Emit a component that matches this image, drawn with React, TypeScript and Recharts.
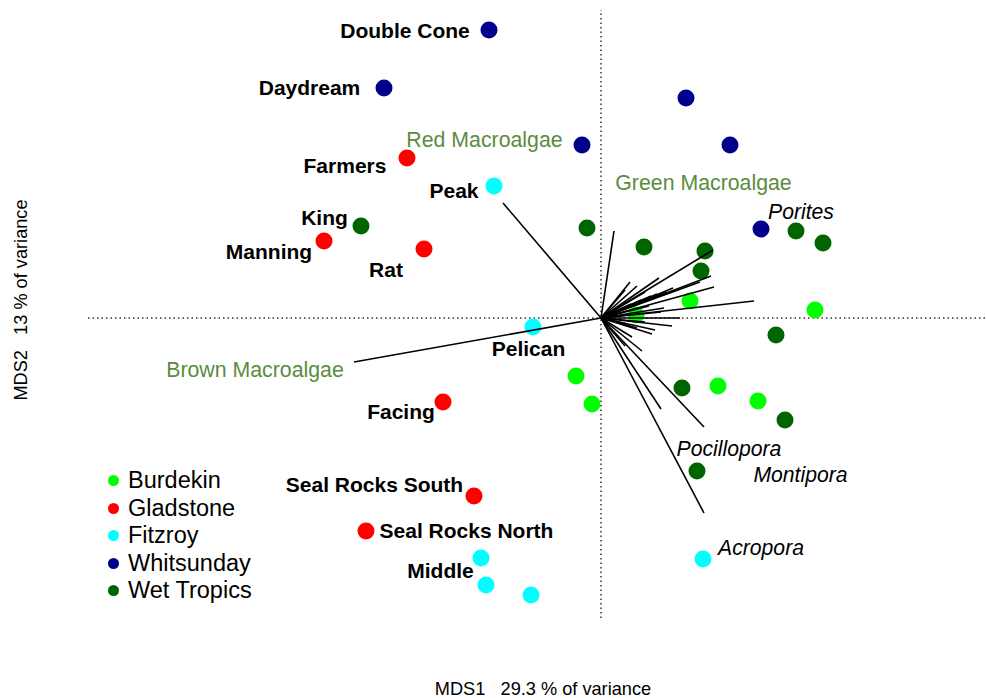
import React from 'react';
import { ScatterChart, Scatter, XAxis, YAxis, ReferenceLine } from 'recharts';

// site scores (MDS1, MDS2)
const burdekin = [
  { x: 0.175, y: 0.015 },
  { x: 0.445, y: 0.085 },
  { x: 1.07, y: 0.04 },
  { x: -0.125, y: -0.29 },
  { x: -0.045, y: -0.43 },
  { x: 0.585, y: -0.34 },
  { x: 0.785, y: -0.415 },
];

const gladstone = [
  { x: -0.97, y: 0.8 },
  { x: -1.385, y: 0.385 },
  { x: -0.885, y: 0.345 },
  { x: -0.79, y: -0.42 },
  { x: -0.635, y: -0.89 },
  { x: -1.175, y: -1.065 },
];

const fitzroy = [
  { x: -0.535, y: 0.66 },
  { x: -0.34, y: -0.045 },
  { x: -0.6, y: -1.2 },
  { x: -0.575, y: -1.335 },
  { x: -0.35, y: -1.385 },
  { x: 0.51, y: -1.205 },
];

const whitsunday = [
  { x: -0.56, y: 1.44 },
  { x: -1.085, y: 1.15 },
  { x: -0.095, y: 0.865 },
  { x: 0.425, y: 1.1 },
  { x: 0.645, y: 0.865 },
  { x: 0.8, y: 0.445 },
];

const wetTropics = [
  { x: -1.2, y: 0.46 },
  { x: -0.07, y: 0.45 },
  { x: 0.215, y: 0.355 },
  { x: 0.52, y: 0.335 },
  { x: 0.5, y: 0.235 },
  { x: 0.975, y: 0.435 },
  { x: 1.11, y: 0.375 },
  { x: 0.875, y: -0.085 },
  { x: 0.405, y: -0.35 },
  { x: 0.92, y: -0.51 },
  { x: 0.48, y: -0.765 },
];

// benthic category vectors (end points, start at origin)
const vectors = [
  { x: 0.065, y: 0.435 },
  { x: -0.49, y: 0.575 },
  { x: -1.235, y: -0.22 },
  { x: 0.515, y: -0.975 },
  { x: 0.515, y: -0.545 },
  { x: 0.3, y: -0.455 },
  { x: 0.56, y: 0.34 },
  { x: 0.55, y: 0.21 },
  { x: 0.565, y: 0.155 },
  { x: 0.495, y: 0.18 },
  { x: 0.29, y: 0.2 },
  { x: 0.145, y: 0.18 },
  { x: 0.765, y: 0.085 },
  { x: 0.395, y: 0.0 },
  { x: 0.355, y: -0.04 },
  { x: 0.255, y: -0.08 },
  { x: 0.205, y: -0.165 },
  { x: 0.155, y: -0.095 },
  { x: 0.36, y: 0.15 },
  { x: 0.315, y: 0.05 },
  { x: 0.12, y: 0.14 },
  { x: 0.18, y: 0.16 },
  { x: 0.22, y: 0.13 },
  { x: 0.25, y: 0.11 },
  { x: 0.2, y: 0.09 },
  { x: 0.15, y: 0.07 },
  { x: 0.28, y: 0.12 },
  { x: 0.33, y: 0.13 },
  { x: 0.24, y: 0.06 },
  { x: 0.3, y: 0.03 },
  { x: 0.22, y: -0.02 },
  { x: 0.18, y: -0.05 },
  { x: 0.27, y: -0.06 },
  { x: 0.13, y: -0.03 },
  { x: 0.12, y: -0.14 },
];

const siteLabels = [
  { text: 'Double Cone', x: -0.98, y: 1.44 },
  { text: 'Daydream', x: -1.4575, y: 1.155 },
  { text: 'Farmers', x: -1.28, y: 0.765 },
  { text: 'Peak', x: -0.735, y: 0.64 },
  { text: 'King', x: -1.3825, y: 0.505 },
  { text: 'Manning', x: -1.66, y: 0.335 },
  { text: 'Rat', x: -1.075, y: 0.245 },
  { text: 'Pelican', x: -0.3625, y: -0.15 },
  { text: 'Facing', x: -1.0, y: -0.465 },
  { text: 'Seal Rocks South', x: -1.1325, y: -0.83 },
  { text: 'Seal Rocks North', x: -0.6725, y: -1.06 },
  { text: 'Middle', x: -0.8025, y: -1.26 },
];

const algaeLabels = [
  { text: 'Red Macroalgae', x: -0.5825, y: 0.89 },
  { text: 'Green Macroalgae', x: 0.5125, y: 0.675 },
  { text: 'Brown Macroalgae', x: -1.73, y: -0.26 },
];

const coralLabels = [
  { text: 'Porites', x: 1.0, y: 0.535 },
  { text: 'Pocillopora', x: 0.64, y: -0.65 },
  { text: 'Montipora', x: 0.9975, y: -0.78 },
  { text: 'Acropora', x: 0.8, y: -1.145 },
];

const regions = [
  { name: 'Burdekin', color: '#00ff00', data: burdekin },
  { name: 'Gladstone', color: '#ff0000', data: gladstone },
  { name: 'Fitzroy', color: '#00ffff', data: fitzroy },
  { name: 'Whitsunday', color: '#00008b', data: whitsunday },
  { name: 'Wet Tropics', color: '#006400', data: wetTropics },
];

const FONT = '"Liberation Sans", Arial, sans-serif';

const dot = (color: string) => (props: any) => (
  <circle cx={props.cx} cy={props.cy} r={8.5} fill={color} />
);

const noDot = () => <g />;

const label = (style: any) => (props: any) => (
  <text
    x={props.cx}
    y={props.cy}
    textAnchor="middle"
    dominantBaseline="central"
    fontFamily={FONT}
    {...style}
  >
    {props.payload.text}
  </text>
);

const LegendBox = () => (
  <div style={{ fontFamily: FONT, fontSize: 23.5, color: '#000' }}>
    {regions.map((r) => (
      <div key={r.name} style={{ display: 'flex', alignItems: 'center', height: 27.5 }}>
        <span
          style={{
            width: 11,
            height: 11,
            borderRadius: '50%',
            background: r.color,
            display: 'inline-block',
            marginRight: 9,
          }}
        />
        {r.name}
      </div>
    ))}
  </div>
);

export default function App() {
  return (
    <div style={{ position: 'absolute', left: 0, top: 0, width: 986, height: 698, background: '#fff' }}>
      <ScatterChart width={986} height={698} margin={{ top: 10, right: 1, bottom: 80, left: 88 }}>
        <XAxis type="number" dataKey="x" domain={[-2.565, 1.92]} hide />
        <YAxis type="number" dataKey="y" domain={[-1.5, 1.54]} hide />
        <ReferenceLine x={0} stroke="#333" strokeWidth={1.5} strokeDasharray="1.5 3" />
        <ReferenceLine y={0} stroke="#333" strokeWidth={1.5} strokeDasharray="1.5 3" />
        {regions.map((r) => (
          <Scatter
            key={r.name}
            name={r.name}
            data={r.data}
            fill={r.color}
            shape={dot(r.color)}
            isAnimationActive={false}
          />
        ))}
        {vectors.map((v, i) => (
          <Scatter
            key={'v' + i}
            data={[{ x: 0, y: 0 }, v]}
            line={{ stroke: '#000', strokeWidth: 1.6 }}
            shape={noDot}
            legendType="none"
            isAnimationActive={false}
          />
        ))}
        <Scatter
          data={siteLabels}
          legendType="none"
          shape={label({ fontSize: 21, fontWeight: 'bold', fill: '#000' })}
          isAnimationActive={false}
        />
        <Scatter
          data={algaeLabels}
          legendType="none"
          shape={label({ fontSize: 21.3, fill: '#5b8c3e' })}
          isAnimationActive={false}
        />
        <Scatter
          data={coralLabels}
          legendType="none"
          shape={label({ fontSize: 21.2, fontStyle: 'italic', fill: '#000' })}
          isAnimationActive={false}
        />
      </ScatterChart>
      <div style={{ position: 'absolute', left: 108, top: 467 }}>
        <LegendBox />
      </div>
      <div
        style={{
          position: 'absolute',
          left: 343,
          top: 679,
          width: 400,
          textAlign: 'center',
          fontFamily: FONT,
          fontSize: 18.2,
          whiteSpace: 'pre',
        }}
      >
        {'MDS1   29.3 % of variance'}
      </div>
      <div
        style={{
          position: 'absolute',
          left: 21,
          top: 300,
          transform: 'translate(-50%, -50%) rotate(-90deg)',
          fontFamily: FONT,
          fontSize: 18.2,
          whiteSpace: 'pre',
        }}
      >
        {'MDS2   13 % of variance'}
      </div>
    </div>
  );
}
